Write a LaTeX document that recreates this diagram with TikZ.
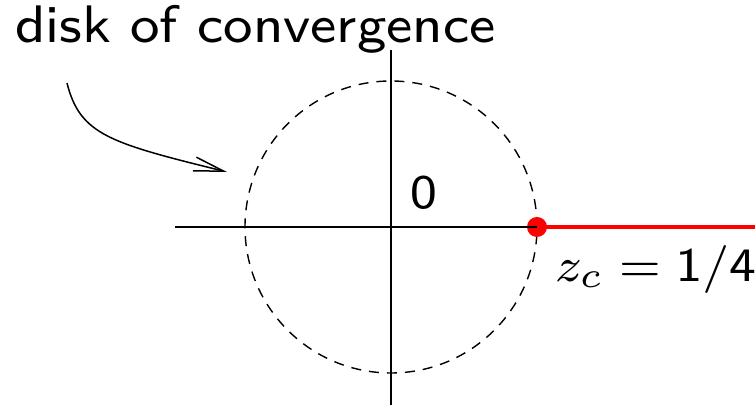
\documentclass[tikz,border=0pt]{standalone}
\usepackage{tikz}
\usetikzlibrary{arrows.meta, positioning}
\renewcommand{\familydefault}{\sfdefault}

\begin{document}
\begin{tikzpicture}[
    x=0.5pt, y=0.5pt,
    every node/.style={inner sep=0pt, outer sep=0pt},
    axis/.style={line width=0.9pt},
    disk/.style={dashed, dash pattern=on 5pt off 4pt, line width=0.7pt},
    cut/.style={red, line width=1.6pt},
    lbl/.style={font=\fontsize{8}{10}\selectfont, transform shape, scale=3, xscale=1.05},
    big/.style={font=\fontsize{8}{10}\selectfont, transform shape, scale=3.3, xscale=1.05},
    arr/.style={-{Straight Barb[length=15pt, width=7pt]}, line width=0.75pt},
]
    \useasboundingbox (0,0) rectangle (755,405);

    % Axes and disk
    \coordinate (orig) at (391,178);
    \coordinate (west) at (175,178);
    \coordinate (east) at (755,178);
    \coordinate (north) at (391,355);
    \coordinate (south) at (391,0);
    \draw[disk] (orig) circle [radius=146];
    \draw[axis] (north) -- (south);

    % Singularity and branch cut
    \node[circle, fill=red, minimum size=10pt] (zc) at (537,178) {};
    \draw[axis] (west) -- (zc.center);
    \draw[cut] (zc.center) -- (east);

    % Labels
    \node[lbl, anchor=center] (zero) at (424,212) {0};
    \node[lbl, anchor=base west] (zclbl) at (555,123) {$z_c = \mathsf{1/4}$};
    \node[big, anchor=base west] (title) at (15,362) {disk of convergence};

    % Pointer to the disk
    \coordinate (tail) at (67,322);
    \coordinate (tip) at (227,233);
    \draw[arr] (tail) .. controls (80,270) and (110,262) .. (tip);
\end{tikzpicture}
\end{document}
